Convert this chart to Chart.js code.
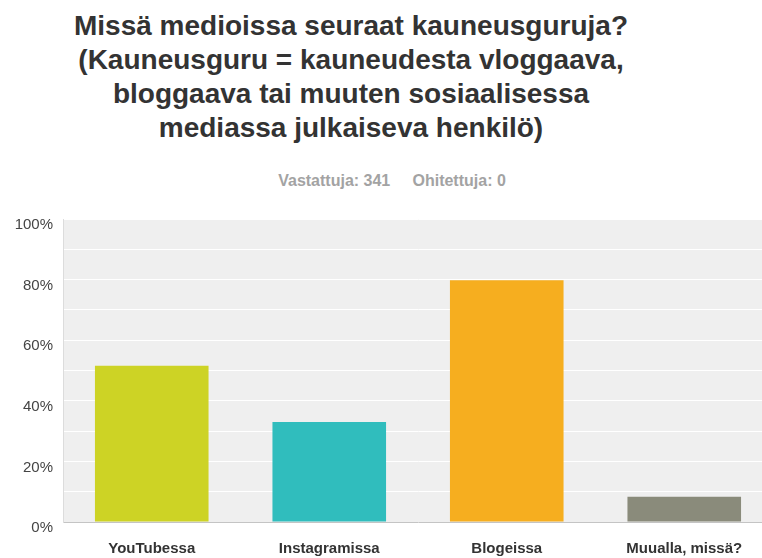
<!DOCTYPE html>
<html>
<head>
<meta charset="utf-8">
<script src="https://cdn.jsdelivr.net/npm/chart.js@4"></script>
<style>
  html, body { margin: 0; padding: 0; background: #fff; overflow: hidden; width: 762px; height: 558px; }
  #title { position: absolute; left: 0; top: 9px; width: 702px; text-align: center;
           font: bold 28px "Liberation Sans", Arial, sans-serif; line-height: 34px; color: #333; }
  #sub { position: absolute; left: 0; top: 171px; width: 784px; text-align: center;
         font: bold 16px "Liberation Sans", Arial, sans-serif; line-height: 20px; color: #a3a3a3; }
  #wrap { position: absolute; left: 0; top: 200px; width: 775px; height: 358px; }
</style>
</head>
<body>
<div id="title">Missä medioissa seuraat kauneusguruja?<br>(Kauneusguru = kauneudesta vloggaava,<br>bloggaava tai muuten sosiaalisessa<br>mediassa julkaiseva henkilö)</div>
<div id="sub">Vastattuja: 341&nbsp;&nbsp;&nbsp;&nbsp;&nbsp;Ohitettuja: 0</div>
<div id="wrap"><canvas id="chart"></canvas></div>
<script>
const categories = ["YouTubessa", "Instagramissa", "Blogeissa", "Muualla, missä?"];
const percents = [51.6, 33.0, 79.8, 8.3];
const barColors = ["#cdd325", "#30bdbd", "#f6ae1f", "#8a8b7b"];
const tickValues = [0, 20, 40, 60, 80, 100];

// grey plot area behind the bars
const plotBackground = {
  id: "plotBackground",
  beforeDraw(chart) {
    const { ctx, chartArea } = chart;
    ctx.save();
    ctx.fillStyle = "#efefef";
    ctx.fillRect(chartArea.left, chartArea.top, chartArea.right - chartArea.left, chartArea.bottom - chartArea.top);
    ctx.restore();
  }
};

const ctx = document.getElementById("chart").getContext("2d");
new Chart(ctx, {
  type: "bar",
  data: {
    labels: categories,
    datasets: [{
      data: percents,
      backgroundColor: barColors,
      borderWidth: 0,
      barPercentage: 0.64,
      categoryPercentage: 1.0
    }]
  },
  options: {
    responsive: true,
    maintainAspectRatio: false,
    animation: false,
    layout: { padding: { top: 16, right: 2, left: 0, bottom: 0 } },
    plugins: {
      legend: { display: false },
      tooltip: { enabled: false }
    },
    scales: {
      x: {
        grid: { display: false },
        border: { display: true, color: "#c4c4c4", width: 1 },
        ticks: {
          color: "#333",
          padding: 10,
          font: { family: "'Liberation Sans', Arial, sans-serif", size: 15, weight: "bold" }
        },
        afterFit(scale) { scale.height = 36; }
      },
      y: {
        min: 0,
        max: 100,
        grid: { color: "#ffffff", lineWidth: 1, drawTicks: false },
        border: { display: true, color: "#dcdcdc", width: 1 },
        ticks: {
          stepSize: 10,
          color: "#444",
          padding: 10,
          labelOffset: 6,
          font: { family: "'Liberation Sans', Arial, sans-serif", size: 15 },
          callback: (v) => tickValues.includes(v) ? v + "%" : ""
        },
        afterFit(scale) { scale.width = 63; }
      }
    }
  },
  plugins: [plotBackground]
});
</script>
</body>
</html>
